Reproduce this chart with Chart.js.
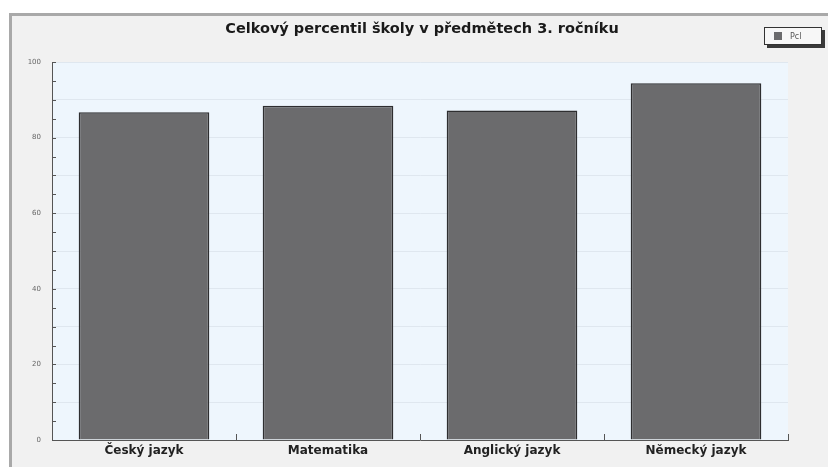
<!DOCTYPE html>
<html lang="cs">
<head>
    <meta charset="UTF-8">
    <title>Celkový percentil školy</title>
    <style>
        html, body {
            margin: 0;
            padding: 0;
            background: #ffffff;
        }
        canvas {
            display: block;
        }
    </style>
</head>
<body>

<canvas id="chart" width="828" height="467"></canvas>

<script src="https://cdn.jsdelivr.net/npm/chart.js"></script>
<script>
    // data
    const subjects = ['Český jazyk', 'Matematika', 'Anglický jazyk', 'Německý jazyk'];
    const percentil = [86.7, 88.4, 87.2, 94.4];
    const seriesName = 'Pcl';
    const yLabels = [0, 20, 40, 60, 80, 100];
    const chartTitle = 'Celkový percentil školy v předmětech 3. ročníku';

    const barColor = '#6b6b6d';

    // grey frame + pale blue plot area, drawn under everything
    const backdrop = {
        id: 'backdrop',
        beforeDraw(chart) {
            const ctx = chart.ctx;
            const a = chart.chartArea;
            ctx.save();
            ctx.fillStyle = '#ffffff';
            ctx.fillRect(0, 0, chart.width, chart.height);
            ctx.fillStyle = '#f1f1f1';
            ctx.fillRect(9, 13, chart.width - 9, chart.height - 13);
            ctx.fillStyle = '#a9a9a9';
            ctx.fillRect(9, 13, chart.width - 9, 3);
            ctx.fillRect(9, 13, 3, chart.height - 13);
            ctx.fillStyle = '#eef6fd';
            ctx.fillRect(a.left, a.top, a.right - a.left, a.bottom - a.top);
            ctx.restore();
        }
    };

    // title (off-centre like the original), inward tick marks and the boxed legend
    const extras = {
        id: 'extras',
        afterDraw(chart) {
            const ctx = chart.ctx;
            const a = chart.chartArea;
            const y = chart.scales.y;
            const x = chart.scales.x;
            ctx.save();

            ctx.fillStyle = '#1a1a1a';
            ctx.font = 'bold 14.5px "DejaVu Sans"';
            ctx.textAlign = 'center';
            ctx.textBaseline = 'middle';
            ctx.fillText(chartTitle, 422, 29);

            ctx.strokeStyle = '#555';
            ctx.lineWidth = 1;
            ctx.beginPath();
            for (let v = 0; v <= 100; v += 5) {
                const py = Math.round(y.getPixelForValue(v)) + 0.5;
                ctx.moveTo(a.left, py);
                ctx.lineTo(a.left + 4, py);
            }
            const step = x.getPixelForValue(1) - x.getPixelForValue(0);
            for (let i = 0; i < subjects.length; i++) {
                const px = Math.round(x.getPixelForValue(i) + step / 2) + 0.5;
                ctx.moveTo(px, a.bottom);
                ctx.lineTo(px, a.bottom - 6);
            }
            ctx.stroke();

            // legend
            const ds = chart.data.datasets[0];
            const bx = 764, by = 27, bw = 58, bh = 18;
            ctx.fillStyle = '#3a3a3a';
            ctx.fillRect(bx + 3, by + 3, bw, bh);
            ctx.fillStyle = '#f7f7f7';
            ctx.fillRect(bx, by, bw, bh);
            ctx.strokeStyle = '#333';
            ctx.strokeRect(bx + 0.5, by + 0.5, bw - 1, bh - 1);
            ctx.fillStyle = ds.backgroundColor;
            ctx.fillRect(bx + 10, by + 5, 8, 8);
            ctx.fillStyle = '#555';
            ctx.font = '8px "DejaVu Sans"';
            ctx.textAlign = 'left';
            ctx.fillText(ds.label, bx + 26, by + bh / 2 + 1);
            ctx.restore();
        }
    };

    new Chart(document.getElementById('chart'), {
        type: 'bar',
        data: {
            labels: subjects,
            datasets: [{
                label: seriesName,
                data: percentil,
                backgroundColor: barColor,
                borderColor: '#2e2e30',
                borderWidth: 1.5,
                categoryPercentage: 0.71,
                barPercentage: 1.0
            }]
        },
        options: {
            responsive: false,
            animation: false,
            devicePixelRatio: 1,
            layout: {
                padding: { left: 10, right: 40, top: 62, bottom: 0 }
            },
            plugins: {
                legend: { display: false },
                tooltip: { enabled: false },
                title: { display: false }
            },
            scales: {
                x: {
                    grid: { display: false, drawTicks: false },
                    border: { color: '#555', width: 1 },
                    ticks: {
                        color: '#222',
                        font: { family: 'DejaVu Sans', size: 12, weight: 'bold' },
                        padding: 4
                    },
                    afterFit(scale) { scale.height = 27; }
                },
                y: {
                    min: 0,
                    max: 100,
                    ticks: {
                        stepSize: 5,
                        color: '#666',
                        font: { family: 'DejaVu Sans', size: 7 },
                        padding: 11,
                        callback: (v) => yLabels.includes(v) ? v : ''
                    },
                    grid: {
                        drawTicks: false,
                        color: (c) => (c.tick && c.tick.value % 10 === 0 && c.tick.value > 0) ? '#dfe7ef' : 'rgba(0,0,0,0)'
                    },
                    border: { color: '#555', width: 1 },
                    afterFit(scale) { scale.width = 42; }
                }
            }
        },
        plugins: [backdrop, extras]
    });
</script>

</body>
</html>
